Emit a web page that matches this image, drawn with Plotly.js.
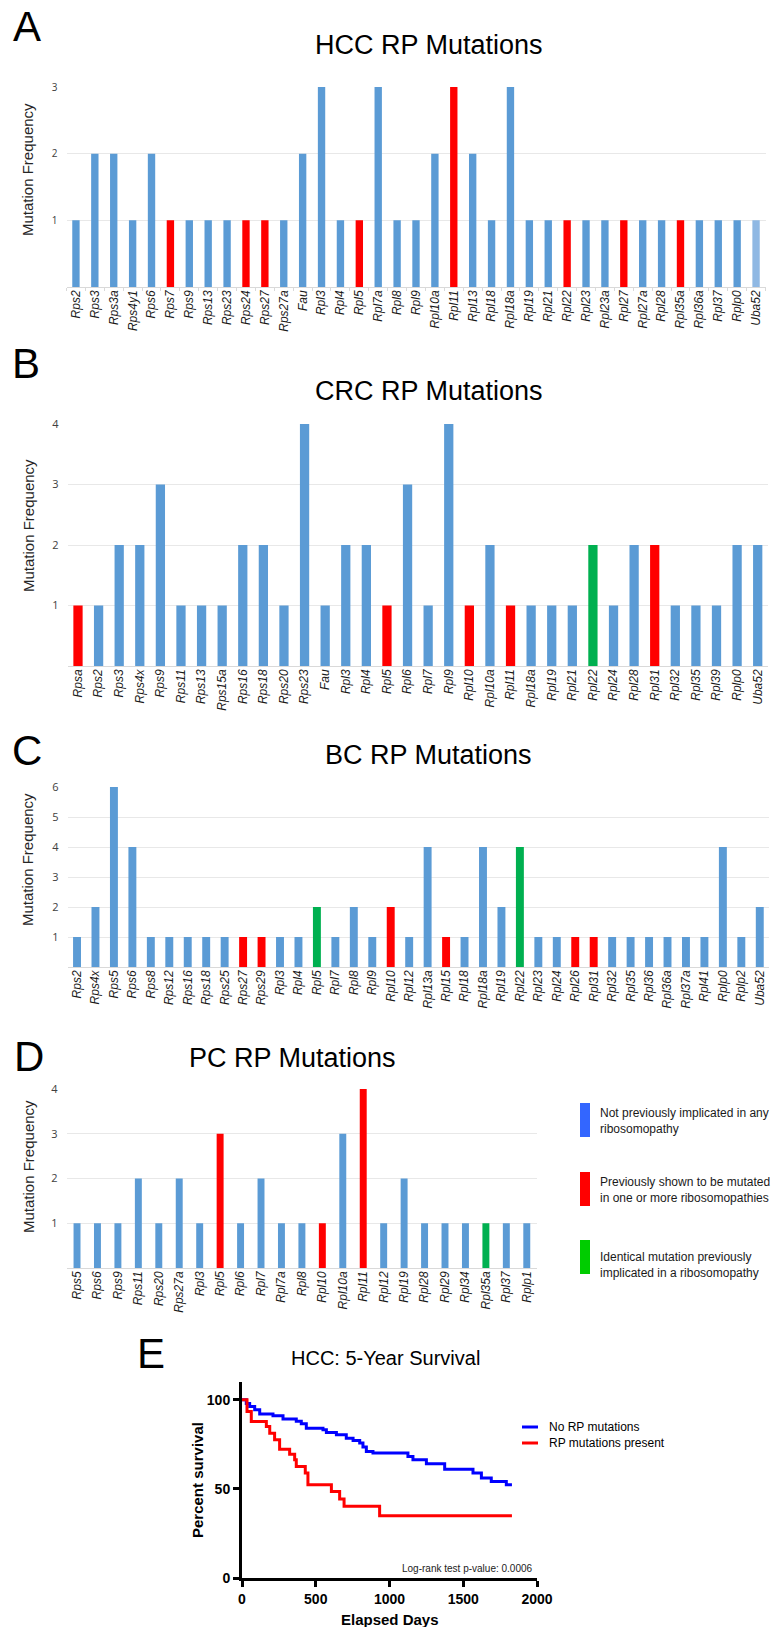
<!DOCTYPE html>
<html><head><meta charset="utf-8">
<script src="https://cdn.plot.ly/plotly-3.0.1.min.js"></script>
<style>html,body{margin:0;padding:0;background:#fff;} #chart{width:771px;height:1627px;}</style>
</head><body><div id="chart"></div>
<script>
const W = 771, H = 1627;

// ---------- Panel A: HCC ----------
const hccGenes = ['Rps2','Rps3','Rps3a','Rps4y1','Rps6','Rps7','Rps9','Rps13','Rps23','Rps24','Rps27','Rps27a','Fau','Rpl3','Rpl4','Rpl5','Rpl7a','Rpl8','Rpl9','Rpl10a','Rpl11','Rpl13','Rpl18','Rpl18a','Rpl19','Rpl21','Rpl22','Rpl23','Rpl23a','Rpl27','Rpl27a','Rpl28','Rpl35a','Rpl36a','Rpl37','Rplp0','Uba52'];
const hccFreq  = [1,2,2,1,2,1,1,1,1,1,1,1,2,3,1,1,3,1,1,2,3,2,1,3,1,1,1,1,1,1,1,1,1,1,1,1,1];
const hccPrior = ['Rps7','Rps24','Rps27','Rpl5','Rpl11','Rpl22','Rpl27','Rpl35a'];
const hccIdentical = [];
const hccLighter = ['Uba52'];

// ---------- Panel B: CRC ----------
const crcGenes = ['Rpsa','Rps2','Rps3','Rps4x','Rps9','Rps11','Rps13','Rps15a','Rps16','Rps18','Rps20','Rps23','Fau','Rpl3','Rpl4','Rpl5','Rpl6','Rpl7','Rpl9','Rpl10','Rpl10a','Rpl11','Rpl18a','Rpl19','Rpl21','Rpl22','Rpl24','Rpl28','Rpl31','Rpl32','Rpl35','Rpl39','Rplp0','Uba52'];
const crcFreq  = [1,1,2,2,3,1,1,1,2,2,1,4,1,2,2,1,3,1,4,1,2,1,1,1,1,2,1,2,2,1,1,1,2,2];
const crcPrior = ['Rpsa','Rpl5','Rpl10','Rpl11','Rpl31'];
const crcIdentical = ['Rpl22'];

// ---------- Panel C: BC ----------
const bcGenes = ['Rps2','Rps4x','Rps5','Rps6','Rps8','Rps12','Rps16','Rps18','Rps25','Rps27','Rps29','Rpl3','Rpl4','Rpl5','Rpl7','Rpl8','Rpl9','Rpl10','Rpl12','Rpl13a','Rpl15','Rpl18','Rpl18a','Rpl19','Rpl22','Rpl23','Rpl24','Rpl26','Rpl31','Rpl32','Rpl35','Rpl36','Rpl36a','Rpl37a','Rpl41','Rplp0','Rplp2','Uba52'];
const bcFreq  = [1,2,6,4,1,1,1,1,1,1,1,1,1,2,1,2,1,2,1,4,1,1,4,2,4,1,1,1,1,1,1,1,1,1,1,4,1,2];
const bcPrior = ['Rps27','Rps29','Rpl10','Rpl15','Rpl26','Rpl31'];
const bcIdentical = ['Rpl5','Rpl22'];

// ---------- Panel D: PC ----------
const pcGenes = ['Rps5','Rps6','Rps9','Rps11','Rps20','Rps27a','Rpl3','Rpl5','Rpl6','Rpl7','Rpl7a','Rpl8','Rpl10','Rpl10a','Rpl11','Rpl12','Rpl19','Rpl28','Rpl29','Rpl34','Rpl35a','Rpl37','Rplp1'];
const pcFreq  = [1,1,1,2,1,2,1,3,1,2,1,1,1,3,4,1,2,1,1,1,1,1,1];
const pcPrior = ['Rpl5','Rpl10','Rpl11'];
const pcIdentical = ['Rpl35a'];

// ---------- Legend ----------
const legendLabels = [
  'Not previously implicated in any<br>ribosomopathy',
  'Previously shown to be mutated<br>in one or more ribosomopathies',
  'Identical mutation previously<br>implicated in a ribosomopathy'
];

// ---------- Panel E: Kaplan-Meier ----------
const noRpDays = [0,29,52,86,120,210,278,368,402,436,549,572,640,707,753,798,820,843,888,1125,1159,1250,1374,1566,1623,1690,1792,1830];
const noRpPct  = [100,98,96.3,94.4,92.1,91,89.2,88,86.5,84.1,83.2,81.7,80.4,78.5,77.2,75.7,73.5,71,70.1,68.2,66.4,64.1,61.1,58.9,56.1,54.2,52.3,52.3];
const rpDays = [0,34,63,165,188,221,255,323,357,368,429,447,606,662,692,933,1830];
const rpPct  = [100,93.5,87.9,85,81.3,77.6,72.3,69.5,66.4,62.6,58.9,52.3,48.6,44.3,40.2,35,35];
const kmNames = ['No RP mutations','RP mutations present'];
const kmTicksX = [0,500,1000,1500,2000];
const kmTicksY = [0,50,100];

const BLUE = '#5b9bd5', RED = '#ff0000', GREEN = '#00b050', LIGHT = '#8fb8e3';
const px = x => x / W, py = y => 1 - y / H;
function barColors(genes, prior, ident, lighter) {
  return genes.map(g => ident.includes(g) ? GREEN : prior.includes(g) ? RED : (lighter && lighter.includes(g)) ? LIGHT : BLUE);
}

const panels = [
  {genes: hccGenes, freq: hccFreq, prior: hccPrior, ident: hccIdentical, lighter: hccLighter, x0: 66.5, x1: 765.5, yTop: 87, yBot: 287, max: 3, bw: 0.39, boundaryTicks: true},
  {genes: crcGenes, freq: crcFreq, prior: crcPrior, ident: crcIdentical, x0: 67.7, x1: 768, yTop: 424, yBot: 666, max: 4, bw: 0.45},
  {genes: bcGenes, freq: bcFreq, prior: bcPrior, ident: bcIdentical, x0: 67.8, x1: 769, yTop: 787, yBot: 967, max: 6, bw: 0.43},
  {genes: pcGenes, freq: pcFreq, prior: pcPrior, ident: pcIdentical, x0: 66.8, x1: 537, yTop: 1089, yBot: 1268, max: 4, bw: 0.34}
];

const traces = [];
const layout = {
  width: W, height: H, margin: {l: 0, r: 0, t: 0, b: 0},
  paper_bgcolor: '#fff', plot_bgcolor: 'rgba(0,0,0,0)',
  showlegend: false, annotations: [], shapes: []
};

panels.forEach((p, i) => {
  const n = i + 1;
  const xa = 'xaxis' + (n === 1 ? '' : n), ya = 'yaxis' + (n === 1 ? '' : n);
  traces.push({
    type: 'bar', x: p.genes, y: p.freq, width: p.bw,
    marker: {color: barColors(p.genes, p.prior, p.ident, p.lighter)},
    xaxis: 'x' + (n === 1 ? '' : n), yaxis: 'y' + (n === 1 ? '' : n), hoverinfo: 'x+y'
  });
  const yticks = [];
  for (let v = 1; v <= p.max; v++) yticks.push(v);
  layout[xa] = {
    domain: [px(p.x0), px(p.x1)], anchor: 'y' + (n === 1 ? '' : n), type: 'category',
    tickangle: -90, showgrid: false, showline: false, zeroline: false,
    ticks: p.boundaryTicks ? 'outside' : '', tickson: p.boundaryTicks ? 'boundaries' : undefined,
    ticklen: 3, tickcolor: '#d9d9d9',
    tickfont: {family: 'Liberation Sans, Arial, sans-serif', size: 12, style: 'italic', color: '#1a1a1a'}
  };
  layout[ya] = {
    domain: [py(p.yBot), py(p.yTop)], anchor: 'x' + (n === 1 ? '' : n),
    range: [0, p.max], tickvals: yticks, showgrid: true, gridcolor: '#e8e8e8', gridwidth: 1,
    zeroline: true, zerolinecolor: '#d9d9d9', zerolinewidth: 1, showline: false,
    ticks: 'outside', ticklen: 6, tickcolor: 'rgba(0,0,0,0)',
    tickfont: {family: 'Open Sans, sans-serif', size: n === 1 ? 10 : 11, color: '#404040'}
  };
});

// KM traces
traces.push({x: noRpDays, y: noRpPct, type: 'scatter', mode: 'lines', line: {shape: 'hv', color: '#0000ff', width: 3}, xaxis: 'x5', yaxis: 'y5', name: kmNames[0]});
traces.push({x: rpDays, y: rpPct, type: 'scatter', mode: 'lines', line: {shape: 'hv', color: '#ff0000', width: 3}, xaxis: 'x5', yaxis: 'y5', name: kmNames[1]});
layout.xaxis5 = {
  domain: [px(242), px(537)], anchor: 'y5', range: [0, 2000], tickvals: kmTicksX,
  showgrid: false, zeroline: false, showline: true, linecolor: '#000', linewidth: 3,
  ticks: 'outside', ticklen: 6, tickwidth: 3, tickcolor: '#000',
  tickfont: {family: 'Liberation Sans, Arial, sans-serif', size: 14, weight: 'bold', color: '#000'}
};
layout.yaxis5 = {
  domain: [py(1578), py(1382)], anchor: 'x5', range: [0, 110], tickvals: kmTicksY,
  showgrid: false, zeroline: false, showline: true, linecolor: '#000', linewidth: 3,
  ticks: 'outside', ticklen: 6, tickwidth: 3, tickcolor: '#000',
  tickfont: {family: 'Liberation Sans, Arial, sans-serif', size: 14, weight: 'bold', color: '#000'}
};

function ann(text, x, y, opts) {
  layout.annotations.push(Object.assign({
    text: text, x: px(x), y: py(y), xref: 'paper', yref: 'paper', showarrow: false,
    xanchor: 'center', yanchor: 'middle',
    font: {family: 'Liberation Sans, Arial, sans-serif', size: 12, color: '#000'}
  }, opts || {}));
}
const F = 'Liberation Sans, Arial, sans-serif';
// panel letters
ann('A', 27, 26, {font: {family: F, size: 42, color: '#000'}});
ann('B', 26, 364, {font: {family: F, size: 42, color: '#000'}});
ann('C', 27, 750, {font: {family: F, size: 42, color: '#000'}});
ann('D', 29, 1056, {font: {family: F, size: 42, color: '#000'}});
ann('E', 151, 1353, {font: {family: F, size: 42, color: '#000'}});
// titles
ann('HCC RP Mutations', 429, 45, {font: {family: F, size: 27, color: '#000'}});
ann('CRC RP Mutations', 429, 391, {font: {family: F, size: 27, color: '#000'}});
ann('BC RP Mutations', 428, 755, {font: {family: F, size: 27, color: '#000'}});
ann('PC RP Mutations', 292, 1058, {font: {family: F, size: 27, color: '#000'}});
ann('HCC: 5-Year Survival', 385, 1358, {font: {family: F, size: 20, color: '#000'}});
// y titles
[170, 526, 860, 1167].forEach(y => ann('Mutation Frequency', 28, y, {textangle: -90, font: {family: F, size: 15, color: '#262626'}}));
ann('Percent survival', 197, 1480, {textangle: -90, font: {family: F, size: 15, weight: 'bold', color: '#000'}});
ann('Elapsed Days', 390, 1619, {font: {family: F, size: 15, weight: 'bold', color: '#000'}});
ann('Log-rank test p-value: 0.0006', 535, 1568, {xanchor: 'right', font: {family: F, size: 10, color: '#222'}});

// mutation legend
const legColors = ['#3366ff', '#ff0000', '#00cc00'];
const legTops = [1103, 1172, 1240];
const legTextY = [1121, 1190, 1265];
legTops.forEach((t, i) => {
  layout.shapes.push({type: 'rect', xref: 'paper', yref: 'paper', x0: px(580), x1: px(590), y0: py(t + 34), y1: py(t), fillcolor: legColors[i], line: {width: 0}});
  ann(legendLabels[i], 598, legTextY[i], {xanchor: 'left', align: 'left', font: {family: F, size: 12, color: '#1a1a1a'}});
});
// KM legend
[['#0000ff', 1427], ['#ff0000', 1443]].forEach((c, i) => {
  layout.shapes.push({type: 'line', xref: 'paper', yref: 'paper', x0: px(522), x1: px(538), y0: py(c[1]), y1: py(c[1]), line: {color: c[0], width: 3}});
  ann(kmNames[i], 547, c[1], {xanchor: 'left', font: {family: F, size: 12, color: '#000'}});
});

Plotly.newPlot('chart', traces, layout, {displayModeBar: false, staticPlot: true});
</script></body></html>
